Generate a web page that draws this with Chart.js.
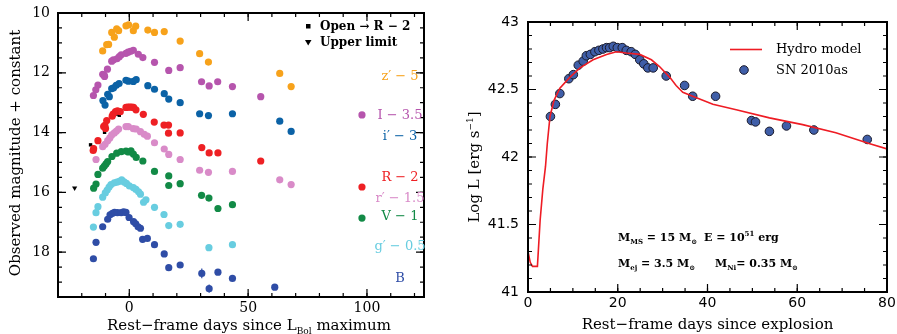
<!DOCTYPE html>
<html>
<head>
<meta charset="utf-8">
<script src="https://cdn.jsdelivr.net/npm/chart.js@4.4.1/dist/chart.umd.min.js"></script>
<style>
  body { margin: 0; background: #fff; width: 897px; height: 334px; overflow: hidden; position: relative; }
  #lc { position: absolute; left: 0; top: 0; width: 440px; height: 334px; }
  #bol { position: absolute; left: 440px; top: 0; width: 457px; height: 334px; }
</style>
</head>
<body>
<div id="lc"><canvas id="lc-chart"></canvas></div>
<div id="bol"><canvas id="bol-chart"></canvas></div>
<script>
/* SN 2010as: multi-band light curves (left) and bolometric LC vs hydro model (right) */

// [rest-frame days since L_Bol max, observed mag + offset]
const bandZ = [[-11.2,11.27],[-9.5,11.06],[-8.7,11.05],[-7.4,10.65],[-6.3,10.81],[-5.3,10.53],[-4.5,10.59],[-1.4,10.43],[-0.3,10.40],[1.7,10.59],[2.7,10.44],[7.8,10.57],[10.6,10.65],[14.7,10.62],[21.4,10.94],[29.6,11.36],[33.3,11.64],[63.3,12.02],[68.1,12.46]];
const bandI = [[-15.1,12.76],[-14.1,12.57],[-13.2,12.41],[-11.2,12.05],[-10.6,12.08],[-10.4,12.12],[-9.2,11.88],[-7.4,11.61],[-6.7,11.57],[-5.2,11.53],[-4.2,11.46],[-3.4,11.40],[-1.4,11.35],[-0.5,11.31],[0.5,11.28],[1.7,11.25],[3.8,11.38],[5.7,11.49],[10.6,11.65],[16.6,11.92],[21.4,11.83],[30.4,12.30],[33.6,12.44],[37.2,12.30],[43.4,12.46],[55.3,12.80],[97.9,13.41]];
const bandIp = [[-11.1,12.93],[-10.2,13.08],[-9.1,12.72],[-8.4,12.80],[-7.4,12.53],[-6.6,12.50],[-5.5,12.42],[-4.3,12.36],[-1.4,12.25],[-0.4,12.28],[1.7,12.29],[2.9,12.23],[7.8,12.43],[10.6,12.55],[14.7,12.70],[16.6,12.88],[21.4,13.00],[29.6,13.37],[33.3,13.43],[43.4,13.37],[63.3,13.62],[68.1,13.96]];
const bandR = [[-15.2,14.60],[-15.0,14.54],[-13.2,14.27],[-10.8,13.80],[-10.3,13.76],[-10.0,13.86],[-9.5,13.60],[-7.2,13.45],[-6.8,13.38],[-5.8,13.30],[-5.0,13.27],[-3.8,13.30],[-1.4,13.16],[-0.6,13.15],[0.2,13.15],[1.0,13.15],[1.8,13.16],[2.8,13.24],[5.9,13.39],[10.5,13.65],[14.6,13.75],[16.5,13.75],[16.5,14.02],[21.4,14.01],[30.5,14.50],[33.6,14.68],[37.3,14.68],[55.3,14.95],[97.9,15.82]];
const bandOpen = [[-16.3,14.41],[-15.3,14.49],[-12.9,14.31],[-10.4,13.99],[-7.0,13.42],[-5.3,13.38],[-4.2,13.42]];
const bandRp = [[-14.0,14.90],[-11.2,14.47],[-10.2,14.39],[-9.1,14.27],[-8.2,14.18],[-7.4,14.08],[-6.3,14.01],[-5.4,13.95],[-4.5,13.88],[-1.4,13.80],[-0.4,13.80],[1.7,13.87],[2.9,13.88],[4.7,13.97],[6.3,14.06],[7.6,14.12],[10.6,14.34],[14.7,14.55],[16.6,14.73],[21.4,14.90],[29.6,15.26],[33.3,15.33],[43.4,15.30],[63.3,15.58],[68.1,15.74]];
const bandV = [[-15.0,15.86],[-14.0,15.72],[-13.2,15.40],[-11.2,15.19],[-10.5,15.12],[-9.8,15.05],[-9.1,14.97],[-7.3,14.80],[-5.3,14.69],[-3.4,14.64],[-1.4,14.62],[-0.4,14.65],[0.7,14.61],[1.7,14.72],[2.9,14.83],[5.7,14.95],[10.6,15.30],[16.6,15.45],[16.6,15.77],[21.4,15.71],[30.4,16.10],[33.5,16.19],[37.3,16.54],[43.4,16.41],[97.9,16.86]];
const bandGp = [[-15.1,17.16],[-14.0,16.68],[-13.2,16.48],[-11.2,16.16],[-10.1,16.02],[-9.3,15.92],[-8.5,15.82],[-7.7,15.74],[-6.3,15.68],[-5.2,15.66],[-4.2,15.63],[-3.2,15.58],[-2.2,15.65],[-1.2,15.70],[0.0,15.78],[1.7,15.84],[2.8,15.90],[3.9,15.98],[4.7,16.06],[6.0,16.33],[7.0,16.25],[10.6,16.50],[14.6,16.74],[16.6,17.11],[21.4,17.07],[33.5,17.85],[43.4,17.75]];
// B: optional third value is the error bar half-length
const bandB = [[-15.1,18.22],[-14.0,17.67],[-11.2,17.15],[-9.1,16.90],[-8.1,16.75],[-7.1,16.70],[-6.2,16.67],[-5.0,16.68],[-3.4,16.68],[-2.4,16.65],[-1.4,16.67],[-0.1,16.84],[1.8,16.98],[2.7,17.05],[3.7,17.15],[4.7,17.20],[5.6,17.57],[7.6,17.54],[10.6,17.75],[14.7,18.06],[16.6,18.52],[21.4,18.43],[30.5,18.71,0.16],[33.6,19.22,0.14],[37.3,18.67],[43.4,18.88],[61.2,19.17]];
const upperLimits = [[-23.0,15.85]];

const lcXTicks = [0, 50, 100];
const lcYTicks = [10, 12, 14, 16, 18];

// [days since explosion, log L]
const hydroModel = [[0,41.30],[0.5,41.22],[1.0,41.19],[2.1,41.19],[2.7,41.53],[3.3,41.76],[3.9,41.93],[4.3,42.10],[4.9,42.30],[5.8,42.42],[7.1,42.51],[9.3,42.59],[11.6,42.66],[14.5,42.72],[17.5,42.76],[19.7,42.78],[21.9,42.77],[24.9,42.76],[27.5,42.72],[29.3,42.67],[31.6,42.59],[33.0,42.53],[34.5,42.48],[36.7,42.45],[41.2,42.39],[46.4,42.35],[53.8,42.29],[61.2,42.24],[68.6,42.18],[76.0,42.10],[80.0,42.06]];
const sn2010as = [[5.0,42.30],[6.1,42.39],[7.1,42.47],[9.1,42.58],[10.1,42.61],[11.2,42.68],[12.3,42.71],[13.0,42.75],[13.9,42.76],[14.9,42.78],[15.8,42.79],[16.7,42.80],[17.5,42.81],[18.2,42.81],[19.0,42.82],[19.9,42.81],[21.0,42.81],[21.9,42.79],[23.0,42.78],[23.9,42.76],[24.9,42.72],[25.8,42.69],[26.7,42.66],[27.9,42.66],[30.8,42.60],[34.9,42.53],[36.7,42.45],[41.8,42.45],[49.8,42.27],[50.7,42.26],[53.8,42.19],[57.6,42.23],[63.7,42.20],[75.6,42.13]];

const bolXTicks = [0, 20, 40, 60, 80];
const bolYTicks = [41, 41.5, 42, 42.5, 43];

const SERIF = '"DejaVu Serif", "Liberation Serif", serif';
const SANS = '"DejaVu Sans", "Liberation Sans", sans-serif';

const pts = (arr) => arr.map(([x, y, err]) => ({ x, y, err }));

// text with sub (1) / superscript (2) runs
function rich(ctx, parts, x, y, size, weight, align, small = 0.62) {
  const fonts = parts.map(([, m]) => `${weight} ${m ? Math.round(size * small) : size}px ${SERIF}`);
  const ws = parts.map(([t], i) => { ctx.font = fonts[i]; return ctx.measureText(t).width; });
  const total = ws.reduce((s, w) => s + w, 0);
  let cx = align === "center" ? x - total / 2 : x;
  ctx.textAlign = "left";
  ctx.textBaseline = "alphabetic";
  parts.forEach(([t, m], i) => {
    ctx.font = fonts[i];
    ctx.fillText(t, cx, y + (m === 1 ? size * 0.28 : m === 2 ? -size * 0.42 : 0));
    cx += ws[i];
  });
}

// box frame, inward ticks on all four sides, tick labels
const frameTicks = {
  id: "frameTicks",
  afterDraw(chart, args, o) {
    const { ctx, chartArea: a, scales: { x, y } } = chart;
    ctx.save();
    ctx.strokeStyle = "#000";
    ctx.lineWidth = 1.2;
    const marks = (scale, step, len, horiz) => {
      const k0 = Math.ceil(scale.min / step - 1e-6), k1 = Math.floor(scale.max / step + 1e-6);
      for (let k = k0; k <= k1; k++) {
        const p = scale.getPixelForValue(k * step);
        ctx.beginPath();
        if (horiz) {
          ctx.moveTo(p, a.bottom); ctx.lineTo(p, a.bottom - len);
          ctx.moveTo(p, a.top); ctx.lineTo(p, a.top + len);
        } else {
          ctx.moveTo(a.left, p); ctx.lineTo(a.left + len, p);
          ctx.moveTo(a.right, p); ctx.lineTo(a.right - len, p);
        }
        ctx.stroke();
      }
    };
    marks(x, o.xMinor, 4, true);
    marks(x, o.xMajor, 8, true);
    marks(y, o.yMinor, 4, false);
    marks(y, o.yMajor, 8, false);
    ctx.lineWidth = 2;
    ctx.strokeRect(a.left, a.top, a.width, a.height);

    ctx.fillStyle = "#000";
    ctx.font = o.font;
    ctx.textAlign = "center";
    ctx.textBaseline = "middle";
    o.xLabels.forEach((v) => ctx.fillText(String(v), x.getPixelForValue(v), a.bottom + o.xGap));
    ctx.textAlign = "right";
    o.yLabels.forEach((v) => ctx.fillText(String(v), a.left - o.yGap, y.getPixelForValue(v)));
    ctx.restore();
  },
};

// error bars for points carrying .err
const errBars = {
  id: "errBars",
  afterDatasetsDraw(chart) {
    const { ctx, scales: { x, y } } = chart;
    ctx.save();
    chart.data.datasets.forEach((ds) => {
      ds.data.forEach((p) => {
        if (!p.err) return;
        const px = x.getPixelForValue(p.x);
        ctx.strokeStyle = ds.backgroundColor;
        ctx.lineWidth = 1.2;
        ctx.beginPath();
        ctx.moveTo(px, y.getPixelForValue(p.y - p.err));
        ctx.lineTo(px, y.getPixelForValue(p.y + p.err));
        ctx.stroke();
      });
    });
    ctx.restore();
  },
};

const lcBands = [
  { data: bandZ, color: "#f7a21b", label: "z′ − 5", ly: 77 },
  { data: bandI, color: "#b655ad", label: "I − 3.5", ly: 116 },
  { data: bandIp, color: "#0b62a6", label: "i′ − 3", ly: 137 },
  { data: bandR, color: "#ee2024", label: "R − 2", ly: 178 },
  { data: bandRp, color: "#d98bc8", label: "r′ − 1.5", ly: 199 },
  { data: bandV, color: "#128a46", label: "V − 1", ly: 217 },
  { data: bandGp, color: "#68cde0", label: "g′ − 0.5", ly: 247 },
  { data: bandB, color: "#2f4da6", label: "B", ly: 279 },
];

const lcText = {
  id: "lcText",
  afterDraw(chart) {
    const { ctx } = chart;
    ctx.save();
    ctx.fillStyle = "#000";
    rich(ctx, [["Rest−frame days since L", 0], ["Bol", 1], [" maximum", 0]], 249, 330, 15, "normal", "center");
    ctx.translate(20, 153);
    ctx.rotate(-Math.PI / 2);
    rich(ctx, [["Observed magnitude + constant", 0]], 0, 0, 15, "normal", "center");
    ctx.setTransform(1, 0, 0, 1, 0, 0);
    ctx.restore();

    ctx.save();
    ctx.font = `13px ${SERIF}`;
    ctx.textAlign = "center";
    ctx.textBaseline = "middle";
    lcBands.forEach((b) => { ctx.fillStyle = b.color; ctx.fillText(b.label, 400, b.ly); });
    // legend
    ctx.fillStyle = "#000";
    ctx.fillRect(306, 24, 4.5, 4.5);
    ctx.beginPath();
    ctx.moveTo(305, 40); ctx.lineTo(311.5, 40); ctx.lineTo(308.2, 45.5); ctx.closePath(); ctx.fill();
    ctx.font = `bold 12px ${SERIF}`;
    ctx.textAlign = "left";
    ctx.fillText("Open → R − 2", 320, 27);
    ctx.fillText("Upper limit", 320, 43);
    ctx.restore();
  },
};

const lcDatasets = lcBands.map((b) => ({
  data: pts(b.data), backgroundColor: b.color, borderWidth: 0, pointRadius: 3.6, pointHoverRadius: 3.6,
}));
lcDatasets.push(
  { data: pts(bandOpen), backgroundColor: "#000", borderWidth: 0, pointStyle: "rect", pointRadius: 2.4 },
  { data: pts(upperLimits), backgroundColor: "#000", borderWidth: 0, pointStyle: "triangle", rotation: 180, pointRadius: 3 },
);

new Chart(document.getElementById("lc-chart"), {
  type: "scatter",
  data: { datasets: lcDatasets },
  options: {
    responsive: true, maintainAspectRatio: false, animation: false,
    layout: { padding: { left: 58, right: 16, top: 13, bottom: 37 } },
    plugins: {
      legend: { display: false }, tooltip: { enabled: false },
      frameTicks: { xMinor: 10, xMajor: 50, yMinor: 0.5, yMajor: 2, xLabels: lcXTicks, yLabels: lcYTicks,
        font: `14px ${SERIF}`, xGap: 11, yGap: 8 },
    },
    scales: {
      x: { type: "linear", display: false, min: -30, max: 124 },
      y: { type: "linear", display: false, min: 10, max: 19.5, reverse: true },
    },
  },
  plugins: [frameTicks, errBars, lcText],
});

const OFF = 440;
const bolText = {
  id: "bolText",
  afterDraw(chart) {
    const { ctx } = chart;
    ctx.save();
    ctx.fillStyle = "#000";
    rich(ctx, [["Rest−frame days since explosion", 0]], 707.5 - OFF, 329, 15, "normal", "center");
    ctx.translate(479 - OFF, 167);
    ctx.rotate(-Math.PI / 2);
    rich(ctx, [["Log L [erg s", 0], ["−1", 2], ["]", 0]], 0, 0, 15, "normal", "center");
    ctx.setTransform(1, 0, 0, 1, 0, 0);

    // legend
    ctx.strokeStyle = "#ee1c24";
    ctx.lineWidth = 1.6;
    ctx.beginPath(); ctx.moveTo(730 - OFF, 49.5); ctx.lineTo(762 - OFF, 49.5); ctx.stroke();
    ctx.fillStyle = "#3f5ea8"; ctx.strokeStyle = "#1a1a2a"; ctx.lineWidth = 1;
    ctx.beginPath(); ctx.arc(744 - OFF, 70, 4.3, 0, Math.PI * 2); ctx.fill(); ctx.stroke();
    ctx.fillStyle = "#000";
    ctx.font = `13px ${SERIF}`;
    ctx.textAlign = "left"; ctx.textBaseline = "middle";
    ctx.fillText("Hydro model", 776 - OFF, 49.5);
    ctx.fillText("SN 2010as", 776 - OFF, 70.5);

    // model parameters
    rich(ctx, [["M", 0], ["MS", 1], [" = 15 M", 0], ["⊙", 1]], 618 - OFF, 241, 11, "bold", "left", 0.6);
    rich(ctx, [["E = 10", 0], ["51", 2], [" erg", 0]], 704 - OFF, 241, 11, "bold", "left", 0.6);
    rich(ctx, [["M", 0], ["ej", 1], [" = 3.5 M", 0], ["⊙", 1]], 618 - OFF, 267, 11, "bold", "left", 0.6);
    rich(ctx, [["M", 0], ["Ni", 1], ["= 0.35 M", 0], ["⊙", 1]], 715 - OFF, 267, 11, "bold", "left", 0.6);
    ctx.restore();
  },
};

new Chart(document.getElementById("bol-chart"), {
  type: "scatter",
  data: {
    datasets: [
      { type: "line", data: pts(hydroModel), borderColor: "#ee1c24", borderWidth: 1.6, pointRadius: 0, tension: 0, fill: false },
      { data: pts(sn2010as), backgroundColor: "#3f5ea8", borderColor: "#1a1a2a", borderWidth: 1, pointRadius: 4.3, pointHoverRadius: 4.3 },
    ],
  },
  options: {
    responsive: true, maintainAspectRatio: false, animation: false,
    layout: { padding: { left: 88, right: 10, top: 22, bottom: 42 } },
    plugins: {
      legend: { display: false }, tooltip: { enabled: false },
      frameTicks: { xMinor: 5, xMajor: 20, yMinor: 0.1, yMajor: 0.5, xLabels: bolXTicks, yLabels: bolYTicks,
        font: `14px ${SANS}`, xGap: 11, yGap: 9 },
    },
    scales: {
      x: { type: "linear", display: false, min: 0, max: 80 },
      y: { type: "linear", display: false, min: 41, max: 43 },
    },
  },
  plugins: [frameTicks, bolText],
});
</script>
</body>
</html>
